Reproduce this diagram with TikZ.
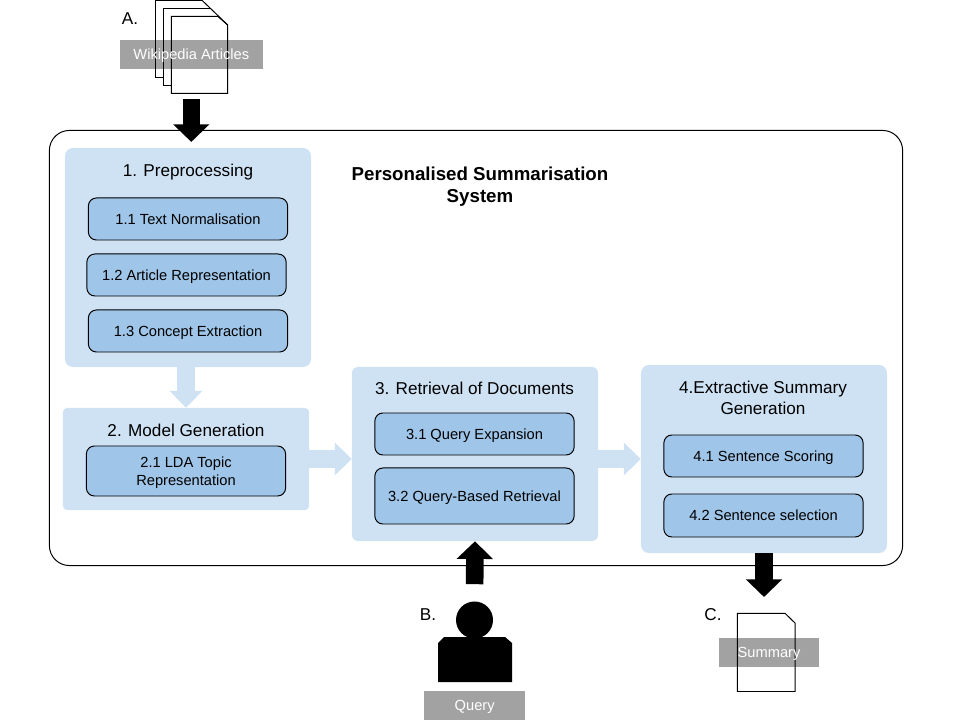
\documentclass[tikz,border=0pt]{standalone}
\usepackage{fontspec}
\setmainfont{Liberation Sans}
\usetikzlibrary{arrows.meta}
\definecolor{boxlight}{HTML}{CFE2F3}
\definecolor{boxdark}{HTML}{9FC5E8}
\definecolor{labelgrey}{HTML}{A2A2A2}
\tikzset{
	stage/.style={fill=boxlight, rounded corners=0.2cm, minimum width=6.15cm},
	task/.style={draw=black, line width=0.7pt, fill=boxdark, rounded corners=0.2cm,
		minimum width=4.98cm, align=center, inner sep=0pt, text depth=0pt,
		font=\fontsize{10.43}{12.8}\selectfont},
	heading/.style={align=center, text depth=0pt, font=\fontsize{12.2}{15}\selectfont},
	greyplate/.style={fill=labelgrey, inner sep=0pt, minimum height=0.725cm},
	greytext/.style={text=white, inner sep=0pt, text depth=0pt,
		font=\fontsize{10.43}{12.8}\selectfont},
	sheet/.style={line width=0.7pt, line join=miter},
	blackarrow/.style={line width=0.44cm, black,
		-{Triangle[length=0.44cm, width=0.88cm]}},
	lightarrow/.style={line width=0.44cm, boxlight,
		-{Triangle[length=0.42cm, width=0.8cm]}},
}
\begin{document}
\begin{tikzpicture}[x=0.025cm, y=-0.025cm]
\useasboundingbox (0,0) rectangle (960,720);

% outer system box
\node[draw=black, line width=0.7pt, rounded corners=0.5cm, minimum width=21.325cm,
	minimum height=10.875cm] (system) at (476,348) {};
\node[align=center, font=\bfseries\fontsize{13.3}{15.6}\selectfont] (systemtitle) at (480,187)
	{Personalised Summarisation\\System};

% the four stages
\node[stage, minimum height=5.475cm] (preproc) at (188,257.5) {};
\node[stage, minimum height=2.55cm, rounded corners=0.1cm] (model) at (186,459) {};
\node[stage, minimum height=4.35cm, rounded corners=0.15cm] (retrieval) at (475,454) {};
\node[stage, minimum height=4.7cm] (extract) at (764,459) {};

\node[heading] (preproctitle) at (188,170) {1. Preprocessing};
\node[heading] (modeltitle) at (186,430) {2. Model Generation};
\node[heading] (retrievaltitle) at (474.5,388.5) {3. Retrieval of Documents};
\node[heading] (extracttitle) at (763,398) {4.Extractive Summary\\Generation};

% tasks inside the stages
\node[task, minimum height=1.05cm] (textnorm) at (188,219) {1.1 Text Normalisation};
\node[task, minimum height=1.05cm] (articlerep) at (186.5,275) {1.2 Article Representation};
\node[task, minimum height=1.05cm] (concepts) at (188,331) {1.3 Concept Extraction};
\node[task, minimum height=1.25cm] (ldatopic) at (186,471) {2.1 LDA Topic\\Representation};
\node[task, minimum height=1.05cm] (queryexp) at (474.5,434) {3.1 Query Expansion};
\node[task, minimum height=1.4cm] (queryret) at (474.5,496) {3.2 Query-Based Retrieval};
\node[task, minimum height=1.05cm] (scoring) at (763.5,456) {4.1 Sentence Scoring};
\node[task, minimum height=1.075cm] (selection) at (763.5,515.5) {4.2 Sentence selection};

% arrows between the stages
\draw[lightarrow] (model.north |- preproc.south) -- (model.north);
\draw[lightarrow] (model.east) -- (model.east -| retrieval.west);
\draw[lightarrow] (retrieval.east |- model.east) -- (extract.west |- model.east);

% A. input documents
\node[heading] (labela) at (130,18.5) {A.};
\node[greyplate, minimum width=3.56cm] (wiki) at (191.3,54.5) {};
\draw[sheet] (201.7,0) -- (155.3,0) -- (155.3,77.3) -- (163.3,77.3);
\draw[sheet] (209.7,8.3) -- (163.3,8.3) -- (163.3,85.3) -- (171.3,85.3);
\draw[sheet] (171.3,16.3) -- (217.7,16.3) -- (227.7,25) -- (227.7,93.3) -- (171.3,93.3) -- cycle;
\draw[sheet] (201.7,0) -- (227.7,25);
\node[greytext] (wikitext) at (wiki) {Wikipedia Articles};
\draw[blackarrow, shorten <=0.75cm, shorten >=-0.3cm] (wiki.south) -- (wiki.south |- system.north);

% B. user query
\node[heading] (labelb) at (428,614.5) {B.};
\node[circle, fill=black, minimum size=0.925cm, inner sep=0pt] (head) at (474.5,620) {};
\fill[black] (438,682) -- (438,643) -- (444,637) -- (505,637) -- (512,643) -- (512,682) -- cycle;
\node[greyplate, minimum width=2.52cm] (query) at (474.7,705.5) {};
\node[greytext] (querytext) at (query) {Query};
\draw[blackarrow, shorten <=0.425cm] (head.north) -- (retrieval.south);

% C. output summary
\node[heading] (labelc) at (713,614.5) {C.};
\node[greyplate, minimum width=2.5cm] (summary) at (769,652.5) {};
\draw[sheet] (737.3,613.3) -- (785,613.3) -- (795,623) -- (795,691.5) -- (737.3,691.5) -- cycle;
\node[greytext] (summarytext) at (summary) {Summary};
\coordinate (summarytop) at (764,597);
\draw[blackarrow] (summarytop |- extract.south) -- (summarytop);
\end{tikzpicture}
\end{document}
